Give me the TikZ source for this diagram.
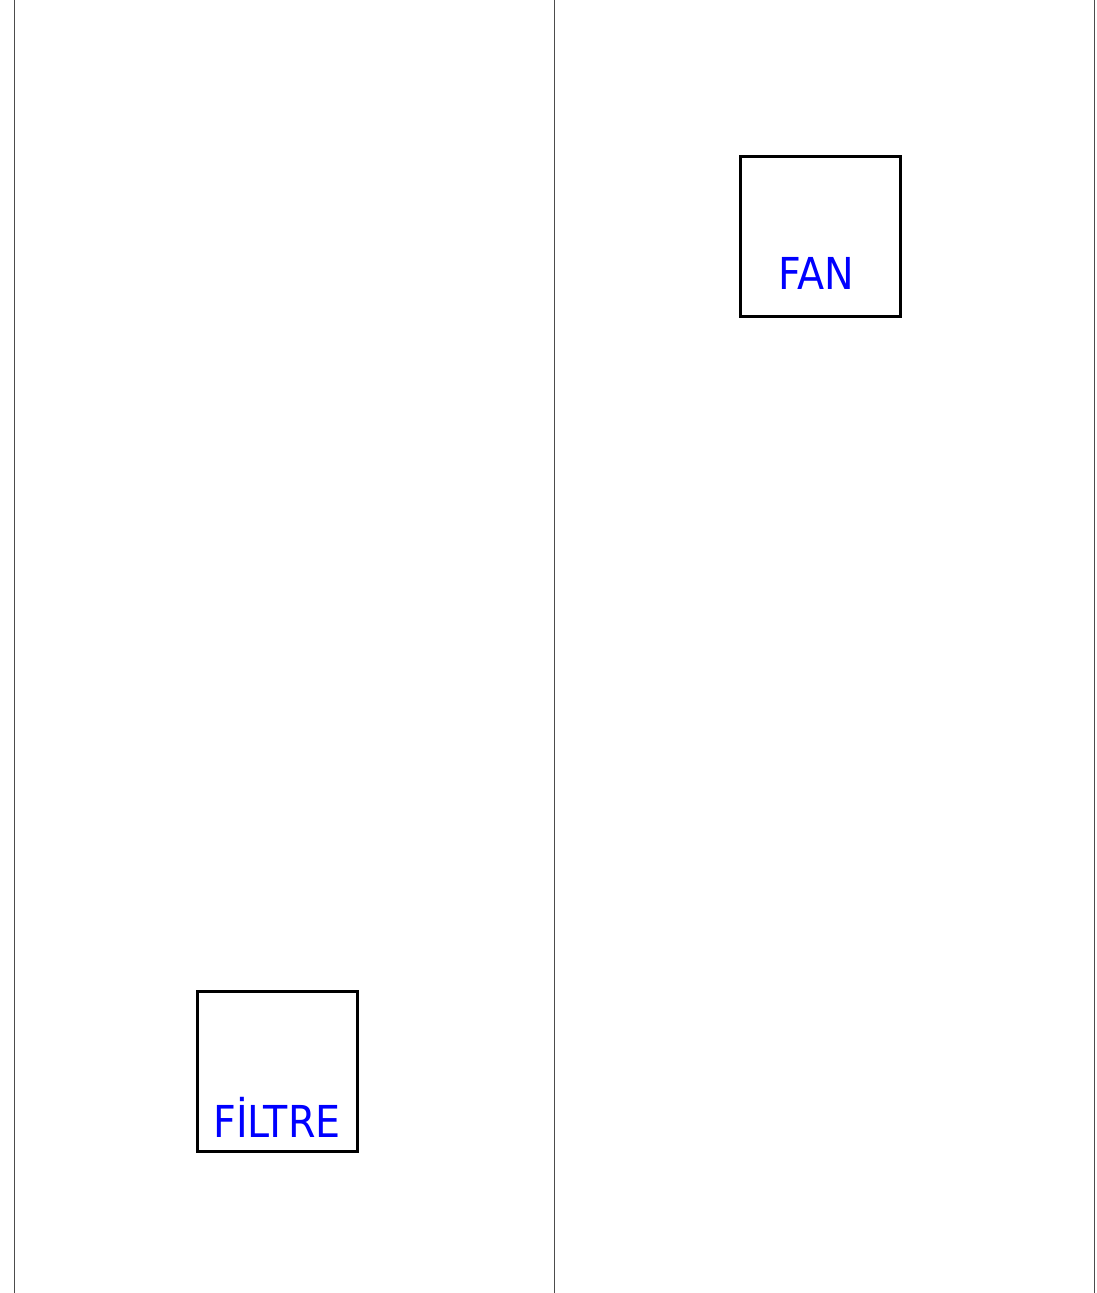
\documentclass[tikz,border=0pt]{standalone}
\usepackage{fontspec}
\newfontfamily\labelfont{DejaVu Sans Condensed}
\usetikzlibrary{positioning}

\begin{document}
\begin{tikzpicture}[
    x=1pt, y=-1pt,
    unit/.style={rectangle, draw=black, line width=3pt, minimum width=160pt,
                 minimum height=160pt, inner sep=0pt},
    tag/.style={font=\labelfont\fontsize{44}{44}\selectfont, text=blue,
                anchor=base, inner sep=0pt},
    wall/.style={draw=black!70, line width=1pt}
]
\useasboundingbox (0,0) rectangle (1097,1293);
% walls
\draw[wall] (14.5,0) -- (14.5,1293);
\draw[wall] (554,0) -- (554,1293);
\draw[wall] (1094.5,0) -- (1094.5,1293);
% units
\node[unit] (fan) at (820.5,236) {};
\node[unit] (filter) at (277,1071) {};
\node[tag] (fantag) at ([xshift=-4pt, yshift=28pt]fan.south) {FAN};
\node[tag] (filtertag) at ([yshift=15pt]filter.south) {FİLTRE};
\end{tikzpicture}
\end{document}
